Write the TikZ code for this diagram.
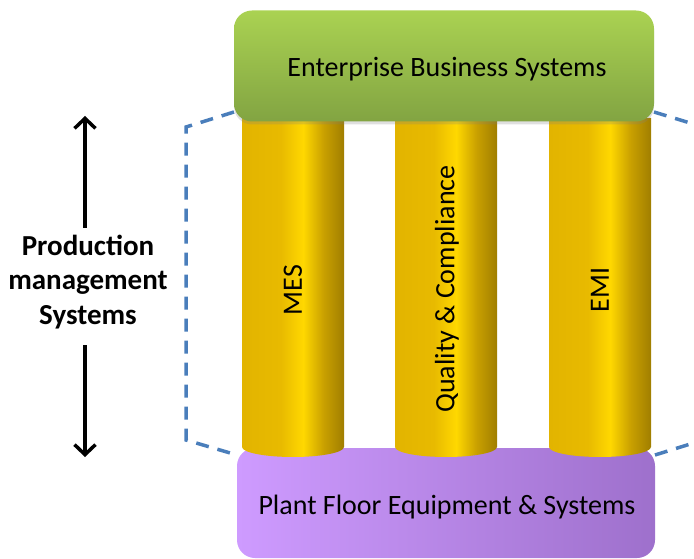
\documentclass[tikz,border=0pt]{standalone}
\usepackage{fontspec}
\setmainfont{Carlito}
\usetikzlibrary{arrows.meta,shadows}
\definecolor{pilA}{HTML}{E2B400}
\definecolor{pilB}{HTML}{E8BA00}
\definecolor{pilC}{HTML}{FFD800}
\definecolor{pilD}{HTML}{C9A000}
\definecolor{pilE}{HTML}{A07E00}
\definecolor{grnTop}{HTML}{AAD252}
\definecolor{grnBot}{HTML}{82A442}
\definecolor{purA}{HTML}{CE9BFF}
\definecolor{purB}{HTML}{9E70CC}
\definecolor{dashblue}{HTML}{4A7EBB}
\pgfdeclarehorizontalshading{pillarshade}{100bp}{color(0bp)=(pilA); color(25bp)=(pilA); color(44bp)=(pilB); color(55bp)=(pilC); color(65bp)=(pilD); color(75bp)=(pilE); color(100bp)=(pilE)}
\tikzset{
  bigbox/.style={rounded corners=18pt, inner sep=0pt},
  boxtext/.style={font=\fontsize{28}{32}\selectfont, text=black},
  pillar/.style={shading=pillarshade},
  pilltext/.style={rotate=90, font=\fontsize{28}{32}\selectfont, text=black},
  dashline/.style={draw=dashblue, line width=3.5pt, dash pattern=on 13pt off 9pt},
  bigarrow/.style={line width=3.5pt, -{Straight Barb[length=10pt,width=21pt,line width=3.5pt]}},
  sidelabel/.style={font=\bfseries\fontsize{29}{34.5}\selectfont, align=center}
}
\begin{document}
\begin{tikzpicture}[x=1pt,y=1pt]
\useasboundingbox (0,0) rectangle (694,558);
\clip (0,0) rectangle (694,558);
% dashed bracket
\coordinate (dl1) at (234,446);
\coordinate (dl2) at (186,431);
\coordinate (dl3) at (186,118);
\coordinate (dl4) at (237,103);
\coordinate (dr1) at (654,446);
\coordinate (dr2) at (700,432);
\coordinate (dr3) at (655,103);
\coordinate (dr4) at (700,117);
\draw[dashline] (dl1) -- (dl2) -- (dl3) -- (dl4);
\draw[dashline] (dr1) -- (dr2);
\draw[dashline] (dr3) -- (dr4);
% bottom box
\node[bigbox, minimum width=418pt, minimum height=110pt, shading angle=135, left color=purA, right color=purB] (plant) at (446,55) {};
\node[boxtext] (planttxt) at (447,51) {Plant Floor Equipment \& Systems};
% pillars
\foreach \xa/\xb/\nm in {242/344/p1, 395/497/p2, 549/651/p3}{
  \path[pillar] (\xa,440) -- (\xa,111) arc[start angle=180, end angle=360, x radius={(\xb-\xa)/2}, y radius=10] -- (\xb,440) -- cycle;
}
\node[pilltext] (mes) at (293,268) {MES};
\node[pilltext] (qc) at (447,269) {Quality \& Compliance};
\node[pilltext] (emi) at (600,268) {EMI};
% top box
\node[bigbox, minimum width=420pt, minimum height=111pt, top color=grnTop, bottom color=grnBot, drop shadow={opacity=0.25, shadow xshift=0pt, shadow yshift=-3pt}] (ebs) at (444,492) {};
\node[boxtext] (ebstxt) at (447,489) {Enterprise Business Systems};
% side label
\node[sidelabel] (pms) at (88,276) {Production\\management\\Systems};
\coordinate (upA) at (85,330);
\coordinate (upB) at (85,442);
\coordinate (dnA) at (85,213);
\coordinate (dnB) at (85,101);
\draw[bigarrow] (upA) -- (upB);
\draw[bigarrow] (dnA) -- (dnB);
\end{tikzpicture}
\end{document}
